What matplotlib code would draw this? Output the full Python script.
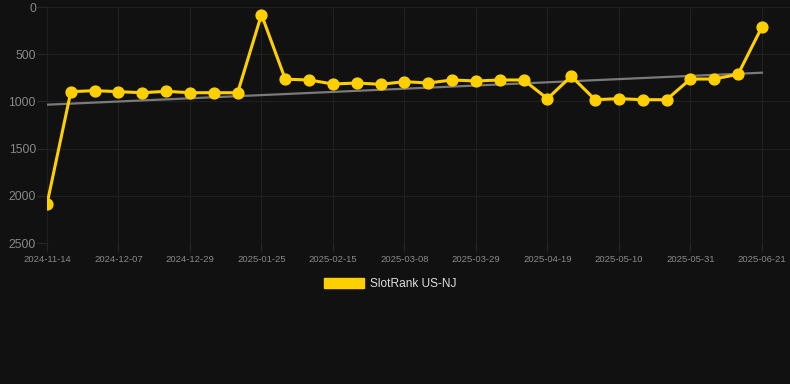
import matplotlib

matplotlib.use("Agg")
import matplotlib.pyplot as plt
import numpy as np
from matplotlib.patches import Patch

dates = [
    "2024-11-14", "2024-11-21", "2024-11-30", "2024-12-07", "2024-12-14",
    "2024-12-21", "2024-12-29", "2025-01-07", "2025-01-16", "2025-01-25",
    "2025-02-01", "2025-02-08", "2025-02-15", "2025-02-22", "2025-03-01",
    "2025-03-08", "2025-03-15", "2025-03-22", "2025-03-29", "2025-04-05",
    "2025-04-12", "2025-04-19", "2025-04-26", "2025-05-03", "2025-05-10",
    "2025-05-17", "2025-05-24", "2025-05-31", "2025-06-07", "2025-06-14",
    "2025-06-21",
]
ranks = [
    2087, 897, 886, 897, 908, 893, 908, 908, 908, 80,
    765, 773, 816, 805, 819, 791, 805, 773, 784, 773,
    773, 971, 733, 982, 971, 982, 982, 763, 763, 713,
    212,
]
# trend line values at the first and last date
trend_ends = [1035, 696]
series_name = "SlotRank US-NJ"
y_ticks = [0, 500, 1000, 1500, 2000, 2500]

BG = "#111111"
GOLD = "#FFD000"
GRID = "#1f1f1f"
TXT = "#888888"

plt.rcParams["font.family"] = ["Liberation Sans", "DejaVu Sans"]

fig = plt.figure(figsize=(7.9, 3.84), dpi=100, facecolor=BG)
ax = fig.add_axes([47 / 790, 1 - 243 / 384, 743 / 790, 236 / 384])
ax.set_facecolor(BG)

x = np.arange(len(dates))
y = np.array(ranks, dtype=float)

ax.plot([x[0], x[-1]], trend_ends, color="#7a7a7a", lw=1.6, zorder=2)
ax.plot(x, y, color=GOLD, lw=2.2, marker="o", ms=7.8, mfc=GOLD, mec=GOLD, zorder=3)

ax.set_xlim(0, 31.18)
ax.set_ylim(2500, 0)
ax.set_yticks(y_ticks)
ax.set_yticklabels([str(t) for t in y_ticks])
ax.set_xticks(x[::3])
ax.set_xticklabels(dates[::3])

ax.grid(True, color=GRID, lw=0.9)
ax.set_axisbelow(True)
for s in ax.spines.values():
    s.set_visible(False)
ax.tick_params(axis="y", length=7, width=0.9, color="#262626", labelsize=8.8, labelcolor=TXT, pad=1)
ax.tick_params(axis="x", length=5.5, width=0.9, color="#262626", labelsize=6.8, labelcolor=TXT, pad=3)

leg = fig.legend(
    handles=[Patch(facecolor=GOLD, edgecolor=GOLD)],
    labels=[series_name],
    loc="center",
    bbox_to_anchor=(390 / 790, 1 - 284 / 384),
    frameon=False,
    fontsize=8.6,
    handlelength=3.4,
    handleheight=1.0,
    handletextpad=0.45,
)
for t in leg.get_texts():
    t.set_color("#dddddd")

fig.savefig("out.png", dpi=100, facecolor=BG)
